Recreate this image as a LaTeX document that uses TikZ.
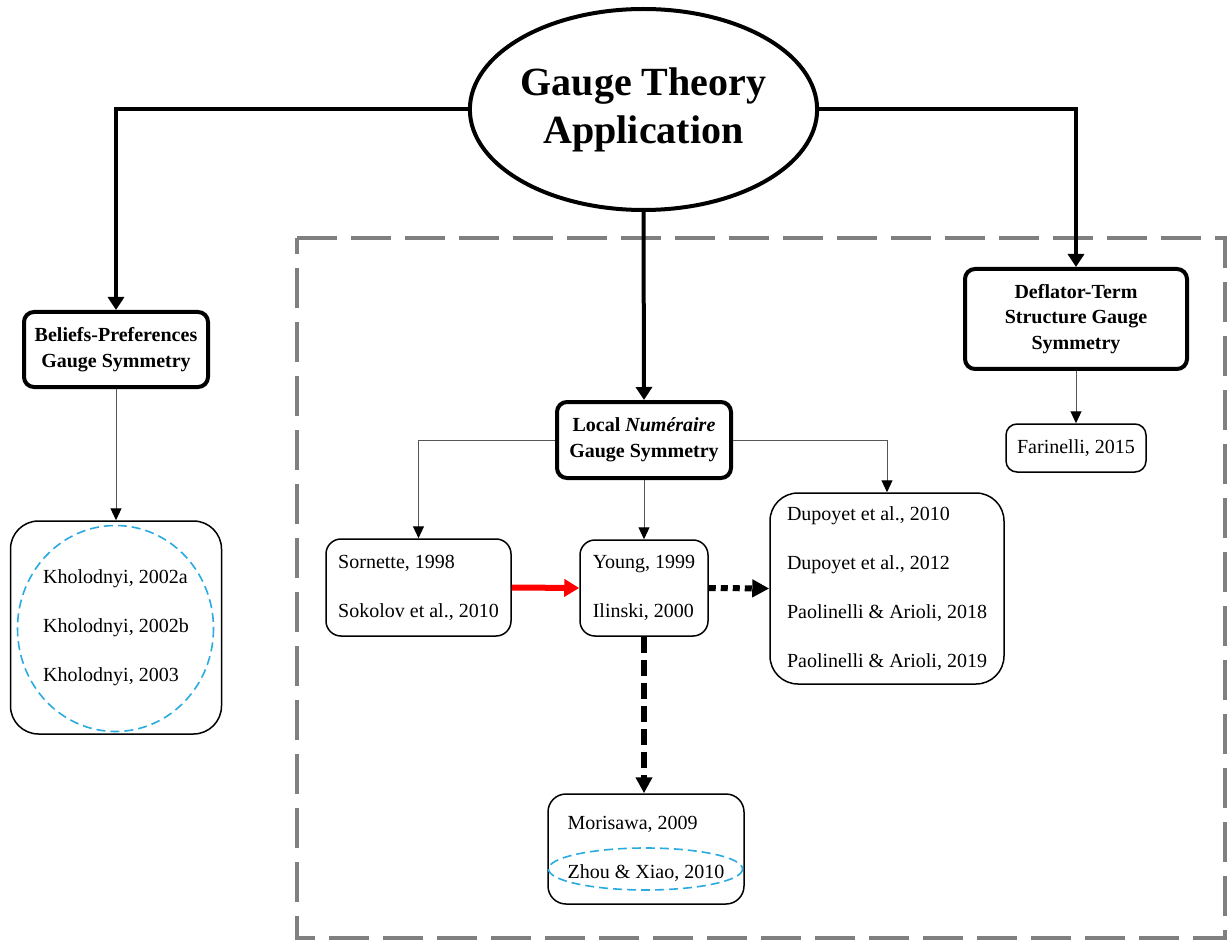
\documentclass[tikz,border=0pt]{standalone}
\usepackage{fontspec}
\setmainfont{Liberation Serif}
\usetikzlibrary{shapes.geometric,arrows.meta}
\definecolor{dashgray}{HTML}{808080}
\definecolor{skyb}{HTML}{29ABE2}
\definecolor{thingray}{HTML}{555555}
\begin{document}
\begin{tikzpicture}[x=1pt,y=-1pt,
  titleell/.style={draw, ellipse, line width=4pt, inner sep=0pt, fill=white,
    minimum width=331pt, minimum height=201pt, align=center,
    font=\fontsize{40}{48}\selectfont\bfseries},
  thickbox/.style={draw, line width=4pt, rounded corners=10pt, fill=white, align=center,
    inner sep=0pt, font=\fontsize{20}{25.5}\selectfont\bfseries},
  refbox/.style={draw, line width=1.5pt, fill=white, align=left, inner sep=0pt,
    font=\fontsize{20}{49}\selectfont},
  bigarrow/.style={line width=4pt, -{Triangle[length=13pt,width=16pt]}},
  thinarrow/.style={draw=thingray, line width=1pt, -{Triangle[length=12pt,width=11pt,color=black,fill=black]}},
  bluedash/.style={draw=skyb, line width=1.6pt, dash pattern=on 9pt off 5pt},
]
\useasboundingbox (0,0) rectangle (1232,941);
% dashed grey frame
\draw[dashgray, line width=4pt, dash pattern=on 40pt off 14pt] (297,238) -- (1225,238) -- (1225,938) -- (297,938) -- cycle;

% main nodes
\node[titleell] (ell) at (643.5,109.5) {Gauge Theory\\Application};
\node[thickbox, minimum width=184pt, minimum height=75pt] (bel) at (116,349.5) {Beliefs-Preferences\\Gauge Symmetry};
\node[thickbox, minimum width=222pt, minimum height=100pt] (defl) at (1076,319) {Deflator-Term\\Structure Gauge\\Symmetry};
\node[thickbox, minimum width=174pt, minimum height=76pt] (loc) at (644,440) {Local \textit{Numéraire}\\Gauge Symmetry};

% reference boxes
\node[refbox, rounded corners=28pt, minimum width=211pt, minimum height=213pt] (khol) at (116,627.5) {Kholodnyi, 2002a\\Kholodnyi, 2002b\\Kholodnyi, 2003};
\node[refbox, rounded corners=11pt, minimum width=140pt, minimum height=48pt] (far) at (1076,448) {Farinelli, 2015};
\node[refbox, rounded corners=15pt, minimum width=185pt, minimum height=97pt] (sor) at (418.5,587.5) {Sornette, 1998\\Sokolov et al., 2010};
\node[refbox, rounded corners=15pt, minimum width=128pt, minimum height=96pt] (young) at (644,588) {Young, 1999\\Ilinski, 2000};
\node[refbox, rounded corners=28pt, minimum width=234pt, minimum height=191pt] (dup) at (887,588.5) {Dupoyet et al., 2010\\Dupoyet et al., 2012\\Paolinelli \& Arioli, 2018\\Paolinelli \& Arioli, 2019};
\node[refbox, rounded corners=18pt, minimum width=196pt, minimum height=110pt] (mor) at (646,849) {Morisawa, 2009\\Zhou \& Xiao, 2010};

% blue dashed highlights
\draw[bluedash] (115.5,628.5) ellipse [x radius=98, y radius=103];
\draw[bluedash] (645.5,869) ellipse [x radius=97, y radius=21];

% thick connectors
\draw[bigarrow] (ell.west) -| (bel.north);
\draw[bigarrow] (ell.east) -| (defl.north);
\draw[bigarrow] (ell.south) -- (loc.north);

% thin connectors
\draw[thinarrow] (bel.south) -- (khol.north);
\draw[thinarrow] (defl.south) -- (far.north);
\draw[thinarrow] (loc.west) -| (sor.north);
\draw[thinarrow] (loc.east) -| (dup.north);
\draw[thinarrow] (loc.south) -- (young.north);

% special connectors
\draw[red, line width=6pt, -{Triangle[length=15pt,width=17pt]}] (sor.east) -- (young.west);
\draw[line width=6pt, dash pattern=on 7pt off 5pt, -{Triangle[length=17pt,width=17pt]}] (young.east) -- (dup.west);
\draw[line width=6pt, dash pattern=on 16pt off 7pt, -{Triangle[length=16pt,width=16pt]}] (young.south) -- (young.south |- mor.north);
\end{tikzpicture}
\end{document}
